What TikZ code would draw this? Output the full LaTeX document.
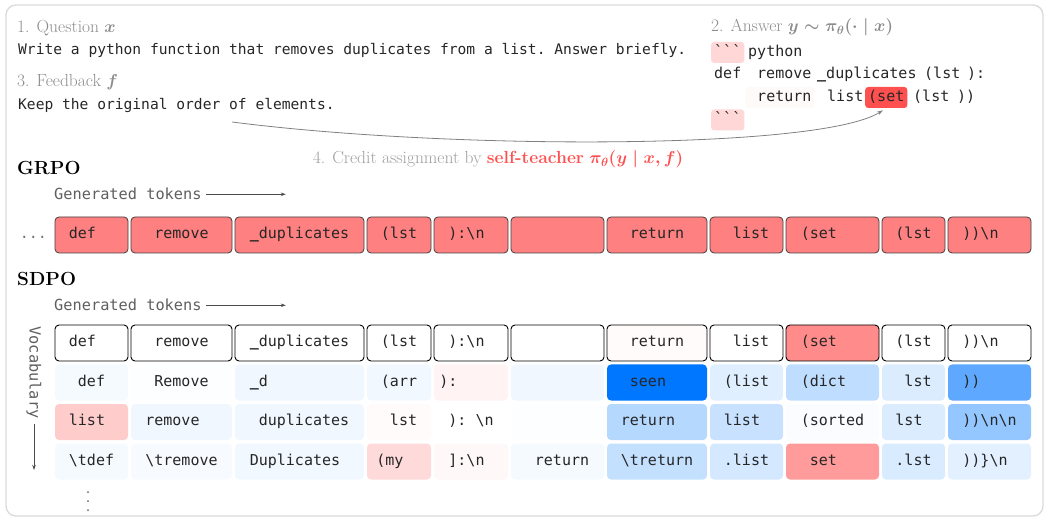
\documentclass[tikz,border=0pt]{standalone}
\usepackage{fontspec}
\setmonofont{DejaVu Sans Mono}
\usepackage{amsmath}
\usetikzlibrary{arrows.meta,positioning}

\definecolor{tokred}{RGB}{255,80,80}
\definecolor{tokblue}{RGB}{0,119,255}
\definecolor{grpored}{RGB}{255,128,128}
\definecolor{labelgray}{RGB}{140,140,140}
\definecolor{framegray}{RGB}{218,218,218}
\definecolor{axisgray}{RGB}{95,95,95}

\newcommand{\tokfont}{\ttfamily\fontsize{15}{18}\selectfont}
\newcommand{\promptfont}{\ttfamily\fontsize{14.6}{18}\selectfont}
\newcommand{\axisfont}{\ttfamily\fontsize{15.3}{18}\selectfont}
\newcommand{\capfont}{\fontsize{17.5}{21}\selectfont}
\newcommand{\headfont}{\bfseries\fontsize{19}{23}\selectfont}
\newcommand{\us}{\textbf{\_}}

\begin{document}
\begin{tikzpicture}[x=1pt,y=-1pt,
    tok/.style={rounded corners=4pt,minimum height=36pt,inner sep=0pt,outer sep=0pt,text height=10.5pt,text depth=3pt,font=\tokfont,text=black!85},
    grpo/.style={tok,draw=black!75,line width=0.8pt,fill=grpored},
    seq/.style={tok,draw=black,line width=0.9pt,fill=white},
    cand/.style={tok},
    w1/.style={minimum width=73pt},w2/.style={minimum width=101pt},w3/.style={minimum width=129pt},
    w4/.style={minimum width=64pt},w5/.style={minimum width=74pt},w6/.style={minimum width=93pt},
    w7/.style={minimum width=100pt},w8/.style={minimum width=73pt},w9/.style={minimum width=93pt},
    w10/.style={minimum width=63pt},w11/.style={minimum width=83pt},
    ans/.style={anchor=base west,inner xsep=3pt,inner ysep=3.75pt,text height=10.5pt,text depth=3pt,rounded corners=3pt,font=\tokfont,text=black!85},
    caption/.style={anchor=base west,inner sep=0pt,font=\capfont,text=labelgray},
    prompt/.style={anchor=base west,inner sep=0pt,font=\promptfont,text=black!85},
    head/.style={anchor=base west,inner sep=0pt,font=\headfont},
    axis/.style={anchor=base west,inner sep=0pt,font=\axisfont,text=axisgray},
    axisarrow/.style={-{Stealth[length=5pt,width=3.5pt]},line width=0.7pt,draw=black!70}]
  \useasboundingbox (0,0) rectangle (1044,518);
  \draw[framegray,line width=1.3pt,rounded corners=10pt] (6,5) rectangle (1043,516);

  % question, answer and feedback
  \node[caption] (qlabel) at (17,33) {1. Question $\boldsymbol{x}$};
  \node[prompt] (qtext) at (18,55) {Write a python function that removes duplicates from a list. Answer briefly.};
  \node[caption] (flabel) at (17,87) {3. Feedback $\boldsymbol{f}$};
  \node[prompt] (ftext) at (18,110) {Keep the original order of elements.};
  \coordinate (fpoint) at (232,122);

  \node[caption] (alabel) at (711,32) {2. Answer $\boldsymbol{y\sim\pi_\theta(\cdot\mid x)}$};
  \node[ans,fill=tokred!23,minimum width=33pt] (atick1) at (711,56.25) {```};
  \node[ans] (apy) at (745,56.25) {python};
  \node[ans] (adef) at (711,78.75) {def};
  \node[ans] (arem) at (754,78.75) {remove};
  \node[ans] (adup) at (814,78.75) {\us duplicates};
  \node[ans] (aarg) at (921,78.75) {(lst};
  \node[ans] (acol) at (964,78.75) {):};
  \node[ans,fill=tokred!3] (aret) at (745,101.25) {\hphantom{x}return};
  \node[ans] (alist) at (824,101.25) {list};
  \node[ans,fill=tokred] (aset) at (865,101.25) {(set};
  \node[ans] (alst) at (910,101.25) {(lst};
  \node[ans] (aend) at (954,101.25) {))};
  \node[ans,fill=tokred!23,minimum width=33pt] (atick2) at (711,123.75) {```};

  \draw[-{Stealth[length=6pt,width=4pt]},black!50,line width=0.8pt,shorten >=4pt] (fpoint) .. controls (450,150) and (820,150) .. (aset.south);
  \node[caption,anchor=base,text=labelgray!85] (credit) at (498,164) {4. Credit assignment by \textcolor{tokred}{\textbf{self-teacher} $\boldsymbol{\pi_\theta(y\mid x,f)}$}};

  % GRPO: one advantage for every token
  \node[head] (grpo) at (17,175) {GRPO};
  \node[axis] (gen1) at (54,200) {Generated tokens};
  \coordinate[right=84pt of gen1] (gen1end);
  \draw[axisarrow,shorten <=4pt] (gen1) -- (gen1end);

  \node[grpo,w1,anchor=north west] (g1) at (55,217) {def\hphantom{xx}};
  \node[grpo,w2,right=3pt of g1] (g2) {remove};
  \node[grpo,w3,right=3pt of g2] (g3) {\us duplicates};
  \node[grpo,w4,right=3pt of g3] (g4) {(lst};
  \node[grpo,w5,right=3pt of g4] (g5) {):\textbackslash n\hphantom{x}};
  \node[grpo,w6,right=3pt of g5] (g6) {};
  \node[grpo,w7,right=3pt of g6] (g7) {return};
  \node[grpo,w8,right=3pt of g7] (g8) {\hphantom{x}list};
  \node[grpo,w9,right=3pt of g8] (g9) {(set\hphantom{xxx}};
  \node[grpo,w10,right=3pt of g9] (g10) {(lst};
  \node[grpo,w11,right=3pt of g10] (g11) {))\textbackslash n\hphantom{xx}};
  \node[tok,left=8pt of g1,text=black!55] (gdots) {...};

  % SDPO: token-level signal over the vocabulary
  \node[head] (sdpo) at (17,286) {SDPO};
  \node[axis] (gen2) at (54,311) {Generated tokens};
  \coordinate[right=84pt of gen2] (gen2end);
  \draw[axisarrow,shorten <=4pt] (gen2) -- (gen2end);
  \node[axis,rotate=-90,anchor=center] (vocab) at (34,372.5) {Vocabulary};
  \coordinate (vocabend) at (34,470);
  \draw[axisarrow,shorten <=5pt] (vocab) -- (vocabend);

  \node[seq,w1,anchor=north west] (s1) at (55,325) {def\hphantom{xx}};
  \node[seq,w2,right=3pt of s1] (s2) {remove};
  \node[seq,w3,right=3pt of s2] (s3) {\us duplicates};
  \node[seq,w4,right=3pt of s3] (s4) {(lst};
  \node[seq,w5,right=3pt of s4] (s5) {):\textbackslash n\hphantom{x}};
  \node[seq,w6,right=3pt of s5] (s6) {};
  \node[seq,w7,right=3pt of s6,fill=tokred!2] (s7) {return};
  \node[seq,w8,right=3pt of s7] (s8) {\hphantom{x}list};
  \node[seq,w9,right=3pt of s8,fill=tokred!66] (s9) {(set\hphantom{xxx}};
  \node[seq,w10,right=3pt of s9] (s10) {(lst};
  \node[seq,w11,right=3pt of s10] (s11) {))\textbackslash n\hphantom{xx}};

  \node[cand,w1,below=3.5pt of s1,fill=tokblue!4] (va1) {def};
  \node[cand,w2,below=3.5pt of s2,fill=tokblue!1] (va2) {Remove};
  \node[cand,w3,below=3.5pt of s3,fill=tokblue!6] (va3) {\us d\hphantom{xxxxxxxxx}};
  \node[cand,w4,below=3.5pt of s4,fill=tokblue!5] (va4) {(arr};
  \node[cand,w5,below=3.5pt of s5,fill=tokred!7] (va5) {):\hphantom{xxxxx}};
  \node[cand,w6,below=3.5pt of s6,fill=tokblue!6] (va6) {};
  \node[cand,w7,below=3.5pt of s7,fill=tokblue] (va7) {seen\hphantom{xx}};
  \node[cand,w8,below=3.5pt of s8,fill=tokblue!12] (va8) {(list};
  \node[cand,w9,below=3.5pt of s9,fill=tokblue!25] (va9) {(dict\hphantom{xx}};
  \node[cand,w10,below=3.5pt of s10,fill=tokblue!14] (va10) {\hphantom{x}lst};
  \node[cand,w11,below=3.5pt of s11,fill=tokblue!63] (va11) {))\hphantom{xxxx}};

  \node[cand,w1,below=3.5pt of va1,fill=tokred!29] (vb1) {list\hphantom{x}};
  \node[cand,w2,below=3.5pt of va2,fill=tokblue!6] (vb2) {remove\hphantom{xx}};
  \node[cand,w3,below=3.5pt of va3,fill=tokblue!6] (vb3) {\hphantom{x}duplicates};
  \node[cand,w4,below=3.5pt of va4,fill=tokred!2] (vb4) {\hphantom{x}lst};
  \node[cand,w5,below=3.5pt of va5] (vb5) {): \textbackslash n};
  \node[cand,w6,below=3.5pt of va6,fill=tokblue!1] (vb6) {};
  \node[cand,w7,below=3.5pt of va7,fill=tokblue!29] (vb7) {return\hphantom{xx}};
  \node[cand,w8,below=3.5pt of va8,fill=tokblue!22] (vb8) {list\hphantom{x}};
  \node[cand,w9,below=3.5pt of va9,fill=tokblue!2] (vb9) {(sorted};
  \node[cand,w10,below=3.5pt of va10,fill=tokblue!14] (vb10) {lst\hphantom{x}};
  \node[cand,w11,below=3.5pt of va11,fill=tokblue!42] (vb11) {))\textbackslash n\textbackslash n};

  \node[cand,w1,below=3.5pt of vb1,fill=tokblue!4] (vc1) {\textbackslash tdef};
  \node[cand,w2,below=3.5pt of vb2,fill=tokblue!3] (vc2) {\textbackslash tremove};
  \node[cand,w3,below=3.5pt of vb3,fill=tokblue!5] (vc3) {Duplicates\hphantom{x}};
  \node[cand,w4,below=3.5pt of vb4,fill=tokred!21] (vc4) {(my\hphantom{xx}};
  \node[cand,w5,below=3.5pt of vb5,fill=tokred!4] (vc5) {]:\textbackslash n\hphantom{x}};
  \node[cand,w6,below=3.5pt of vb6,fill=tokblue!4] (vc6) {\hphantom{x}return};
  \node[cand,w7,below=3.5pt of vb7,fill=tokblue!23] (vc7) {\textbackslash treturn};
  \node[cand,w8,below=3.5pt of vb8,fill=tokblue!17] (vc8) {.list};
  \node[cand,w9,below=3.5pt of vb9,fill=tokred!57] (vc9) {set\hphantom{xx}};
  \node[cand,w10,below=3.5pt of vb10,fill=tokblue!15] (vc10) {.lst};
  \node[cand,w11,below=3.5pt of vb11,fill=tokblue!11] (vc11) {))\}\textbackslash n\hphantom{x}};

  % more rows below
  \fill[black!60] (88,492) circle (1pt) (88,501) circle (1pt) (88,510) circle (1pt);
\end{tikzpicture}
\end{document}
